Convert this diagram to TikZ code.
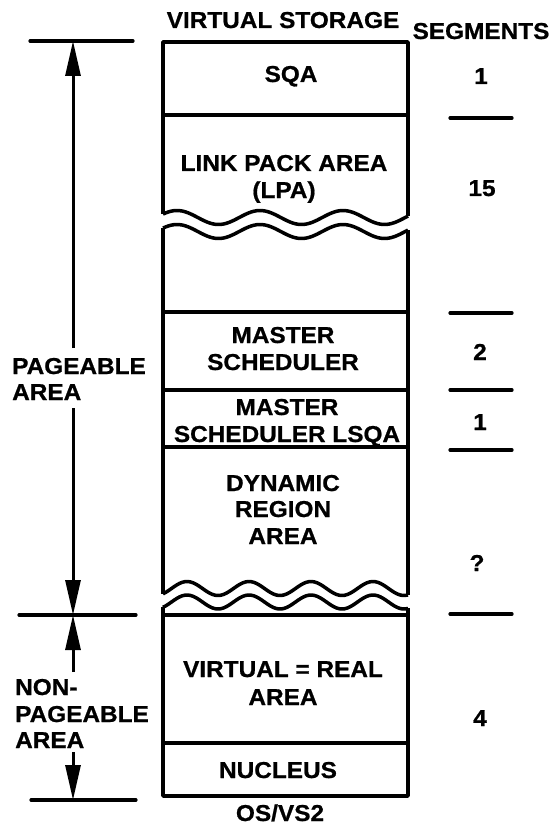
\documentclass[tikz,border=0pt]{standalone}
\usepackage{fontspec}
\newfontfamily\lbl{Liberation Sans}[FakeStretch=1.06,FakeBold=0.8]
\usetikzlibrary{arrows.meta}
\begin{document}
\begin{tikzpicture}[x=1pt,y=-1pt,
  txt/.style={font=\lbl\bfseries\fontsize{23}{27}\selectfont, inner sep=0pt, anchor=base},
  ltxt/.style={txt, anchor=base west},
  boxline/.style={line width=3.5pt, line join=round},
  tick/.style={line width=3.2pt, line cap=round},
  arr/.style={line width=3pt, -{Triangle[length=35pt,width=15pt]}}]
\useasboundingbox (0,0) rectangle (550,829);

% ---- storage column ----
\draw[boxline] (163,214.1) -- (163,42) -- (408,42) -- (408,216.2);
\draw[boxline] plot[domain=163:408, samples=90] (\x,{217.5-7*cos((\x-177)/83*360)});
\draw[boxline] plot[domain=163:408, samples=90] (\x,{231.5-7*cos((\x-177)/83*360)});
\draw[boxline] (163,228.1) -- (163,593.8);
\draw[boxline] (408,230.2) -- (408,594.9);
\draw[boxline] plot[domain=163:408, samples=90] (\x,{588.5-7*cos((\x-187)/62*360)});
\draw[boxline] plot[domain=163:408, samples=90] (\x,{602-7*cos((\x-187)/62*360)});
\draw[boxline] (163,607.3) -- (163,796) -- (408,796) -- (408,608.4);
\foreach \yy/\nm in {115/d1,312/d2,390/d3,447/d4,615/d5,743/d6}{
  \coordinate (\nm l) at (163,\yy);
  \coordinate (\nm r) at (408,\yy);
  \draw[boxline] (\nm l) -- (\nm r);
}

% ---- texts in column ----
\node[txt] (vs)   at (283,28) {VIRTUAL STORAGE};
\node[txt] (sqa)  at (291,82) {SQA};
\node[txt] (lpa1) at (284,171) {LINK PACK AREA};
\node[txt] (lpa2) at (284,198) {(LPA)};
\node[txt] (ms1)  at (283,343) {MASTER};
\node[txt] (ms2)  at (283,370) {SCHEDULER};
\node[txt] (ml1)  at (287,415) {MASTER};
\node[txt] (ml2)  at (287,442) {SCHEDULER LSQA};
\node[txt] (dr1)  at (283,491) {DYNAMIC};
\node[txt] (dr2)  at (283,517) {REGION};
\node[txt] (dr3)  at (283,544) {AREA};
\node[txt] (vr1)  at (283,677) {VIRTUAL = REAL};
\node[txt] (vr2)  at (283,705) {AREA};
\node[txt] (nuc)  at (278,778) {NUCLEUS};
\node[txt] (os)   at (280,821) {OS/VS2};

% ---- segments column ----
\node[txt] (seg)  at (481,39) {SEGMENTS};
\node[txt] (s1)   at (481,84) {1};
\node[txt] (s15)  at (482,196) {15};
\node[txt] (s2)   at (480,360) {2};
\node[txt] (s3)   at (480,430) {1};
\node[txt] (sq)   at (477,571) {?};
\node[txt] (s4)   at (480,726) {4};
\foreach \yy/\nm in {118/t1,313/t2,390/t3,450/t4,614/t5}{
  \coordinate (\nm a) at (450,\yy);
  \coordinate (\nm b) at (512,\yy);
  \draw[tick] (\nm a) -- (\nm b);
}

% ---- left dimension ----
\coordinate (lt1) at (30,41);  \coordinate (lt2) at (133,41);
\coordinate (lm1) at (19,615); \coordinate (lm2) at (136,615);
\coordinate (lb1) at (31,800); \coordinate (lb2) at (136,800);
\draw[tick] (lt1) -- (lt2);
\draw[tick] (lm1) -- (lm2);
\draw[tick] (lb1) -- (lb2);
\coordinate (ptop) at (73,41);
\coordinate (pmid) at (73,615);
\coordinate (pbot) at (73,800);
\coordinate (pa1) at (73,348);
\coordinate (pa2) at (73,408);
\coordinate (pn1) at (73,672);
\coordinate (pn2) at (73,752);
\draw[arr] (pa1) -- (ptop);
\draw[arr] (pa2) -- (pmid);
\draw[arr] (pn1) -- (pmid);
\draw[arr] (pn2) -- (pbot);
\node[ltxt] (pg1) at (12,374) {PAGEABLE};
\node[ltxt] (pg2) at (12,400) {AREA};
\node[ltxt] (np1) at (15,695) {NON-};
\node[ltxt] (np2) at (15,722) {PAGEABLE};
\node[ltxt] (np3) at (15,748) {AREA};
\end{tikzpicture}
\end{document}
